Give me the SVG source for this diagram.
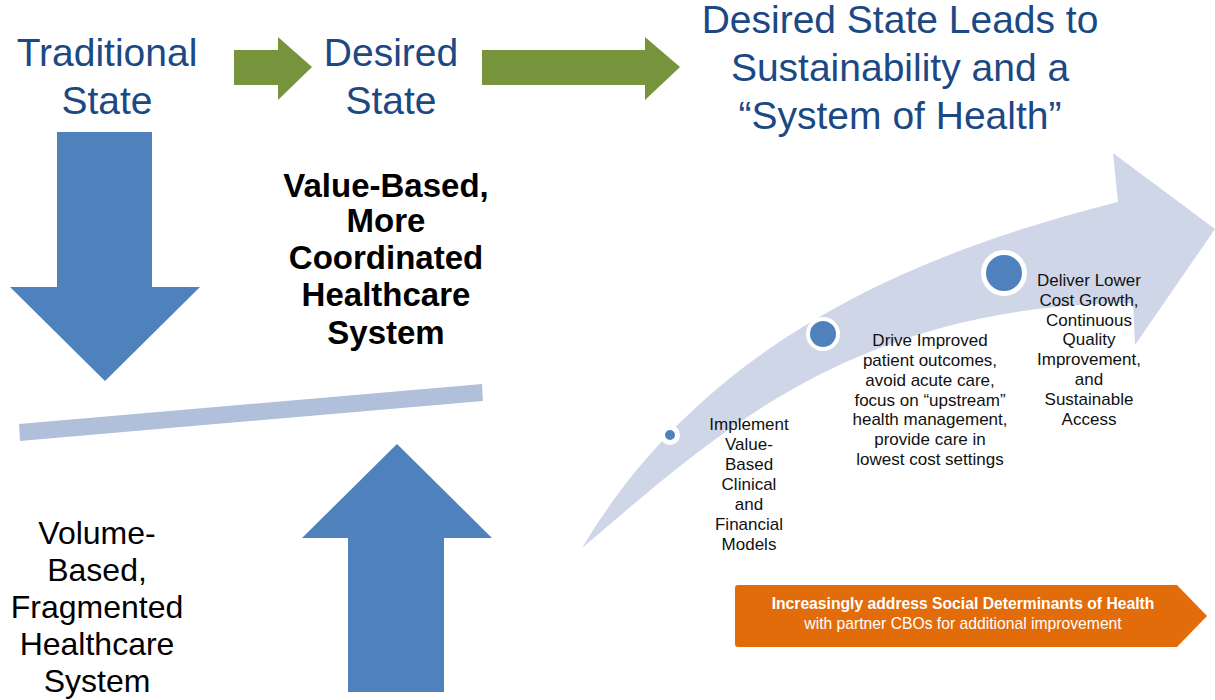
<svg xmlns="http://www.w3.org/2000/svg" width="1215" height="700" viewBox="0 0 1215 700">
<style>
.title{font-family:"Liberation Sans",Arial,sans-serif;font-size:39px;fill:#1c4883;text-anchor:middle}
.bold{font-family:"Liberation Sans",Arial,sans-serif;font-size:33px;font-weight:bold;fill:#000;text-anchor:middle}
.big{font-family:"Liberation Sans",Arial,sans-serif;font-size:32px;fill:#000;text-anchor:middle}
.step{font-family:"Liberation Sans",Arial,sans-serif;font-size:17px;fill:#111;text-anchor:middle}
.orange{font-family:"Liberation Sans",Arial,sans-serif;font-size:15.7px;fill:#fff;text-anchor:middle}
.green{fill:#77933c}
.blue{fill:#4f81bd}
.ring{fill:#4f81bd;stroke:#fff}
</style>
<rect width="1215" height="700" fill="#fff"/>

<g id="connectors">
  <polygon class="green" points="234,50 278,50 278,37 312,67 278,100 278,85 234,85"/>
  <polygon class="green" points="482,50 645,50 645,37 680,67 645,100 645,85 482,85"/>
  <polygon class="blue" points="57,132 152,132 152,287 200,287 105,381 10,287 57,287"/>
  <polygon class="blue" points="397,444 492,538 444,538 444,692 348,692 348,538 302,538"/>
  <polygon fill="#b0c0da" points="19,424 482,384 483,401 20,441"/>
</g>

<g id="traditional-state">
  <text class="title" x="107" y="66">Traditional</text>
  <text class="title" x="107" y="114">State</text>
</g>

<g id="desired-state">
  <text class="title" x="391" y="66">Desired</text>
  <text class="title" x="391" y="114">State</text>
</g>

<g id="sustainability-title">
  <text class="title" x="900" y="33">Desired State Leads to</text>
  <text class="title" x="900" y="81">Sustainability and a</text>
  <text class="title" x="900" y="129">“System of Health”</text>
</g>

<g id="value-based">
  <text class="bold" x="386" y="197">Value-Based,</text>
  <text class="bold" x="386" y="232">More</text>
  <text class="bold" x="386" y="269">Coordinated</text>
  <text class="bold" x="386" y="306">Healthcare</text>
  <text class="bold" x="386" y="344">System</text>
</g>

<g id="volume-based">
  <text class="big" x="97" y="544">Volume-</text>
  <text class="big" x="97" y="581">Based,</text>
  <text class="big" x="97" y="618">Fragmented</text>
  <text class="big" x="97" y="655">Healthcare</text>
  <text class="big" x="97" y="692">System</text>
</g>

<g id="progress-arrow">
  <path fill="#cfd6e8" d="M582,548 C700,350 898,257 1118,202 L1113,153 L1215,229 L1135,345 L1133,303 C850,305 712,438 582,548 Z"/>
</g>

<g id="step-1">
  <circle class="ring" cx="670" cy="435" r="7.5" stroke-width="5"/>
  <text class="step" x="749" y="430">Implement</text>
  <text class="step" x="749" y="450">Value-</text>
  <text class="step" x="749" y="470">Based</text>
  <text class="step" x="749" y="490">Clinical</text>
  <text class="step" x="749" y="510">and</text>
  <text class="step" x="749" y="530">Financial</text>
  <text class="step" x="749" y="550">Models</text>
</g>

<g id="step-2">
  <circle class="ring" cx="823" cy="334" r="15" stroke-width="4"/>
  <text class="step" x="930" y="346">Drive Improved</text>
  <text class="step" x="930" y="366">patient outcomes,</text>
  <text class="step" x="930" y="386">avoid acute care,</text>
  <text class="step" x="930" y="406">focus on “upstream”</text>
  <text class="step" x="930" y="425">health management,</text>
  <text class="step" x="930" y="445">provide care in</text>
  <text class="step" x="930" y="465">lowest cost settings</text>
</g>

<g id="step-3">
  <circle class="ring" cx="1004" cy="273" r="20.5" stroke-width="5"/>
  <text class="step" x="1089" y="286">Deliver Lower</text>
  <text class="step" x="1089" y="306">Cost Growth,</text>
  <text class="step" x="1089" y="326">Continuous</text>
  <text class="step" x="1089" y="345">Quality</text>
  <text class="step" x="1089" y="365">Improvement,</text>
  <text class="step" x="1089" y="385">and</text>
  <text class="step" x="1089" y="405">Sustainable</text>
  <text class="step" x="1089" y="425">Access</text>
</g>

<g id="social-determinants">
  <path fill="#e36c0a" d="M738,585 L1177,585 L1207,616 L1177,647 L738,647 Q735,647 735,644 L735,588 Q735,585 738,585 Z"/>
  <text class="orange" x="963" y="609" font-weight="bold">Increasingly address Social Determinants of Health</text>
  <text class="orange" x="963" y="629">with partner CBOs for additional improvement</text>
</g>
</svg>
